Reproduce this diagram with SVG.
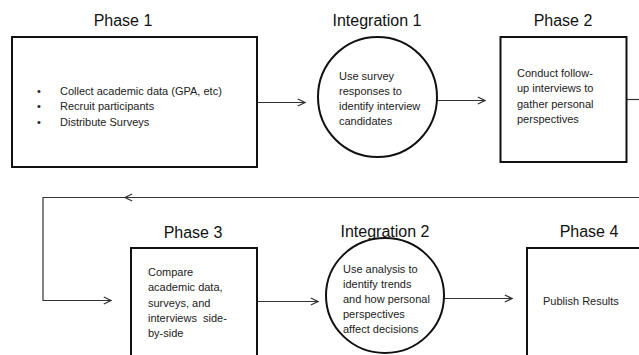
<svg xmlns="http://www.w3.org/2000/svg" width="639" height="355" viewBox="0 0 639 355">
  <defs>
    <style>
      .box { fill: #ffffff; stroke: #111111; stroke-width: 2; }
      .title { font-family: "Liberation Sans", Arial, sans-serif; font-size: 16px; fill: #111111; text-anchor: middle; }
      .body { font-family: "Liberation Sans", Arial, sans-serif; font-size: 11px; fill: #222222; }
      .conn { fill: none; stroke: #333333; stroke-width: 1.2; }
    </style>
    <marker id="open-arrow" viewBox="0 0 10 10" refX="9" refY="5" markerWidth="9" markerHeight="9" markerUnits="userSpaceOnUse" orient="auto">
      <path d="M1,1 L9,5 L1,9" fill="none" stroke="#333333" stroke-width="1.3"/>
    </marker>
  </defs>
  <rect width="639" height="355" fill="#ffffff"/>

  <!-- connectors -->
  <g id="connectors">
    <line class="conn" x1="257" y1="102.5" x2="305" y2="102.5" marker-end="url(#open-arrow)"/>
    <line class="conn" x1="437" y1="100.5" x2="485" y2="100.5" marker-end="url(#open-arrow)"/>
    <!-- return path from Phase 2 around to Phase 3 -->
    <line class="conn" x1="627" y1="99.5" x2="639" y2="99.5"/>
    <line class="conn" x1="639" y1="197.5" x2="125" y2="197.5" marker-end="url(#open-arrow)"/>
    <polyline class="conn" points="125,197.5 43,197.5 43,300.5 111,300.5" marker-end="url(#open-arrow)"/>
    <line class="conn" x1="257" y1="301.5" x2="318" y2="301.5" marker-end="url(#open-arrow)"/>
    <line class="conn" x1="444" y1="298.5" x2="512" y2="298.5" marker-end="url(#open-arrow)"/>
  </g>

  <!-- Phase 1 -->
  <g id="phase1">
    <text class="title" x="123" y="26">Phase 1</text>
    <rect class="box" x="12" y="37" width="245" height="130"/>
    <text class="body" x="37" y="95">•</text>
    <text class="body" x="37" y="110">•</text>
    <text class="body" x="37" y="125.5">•</text>
    <text class="body" x="60" y="95">Collect academic data (GPA, etc)</text>
    <text class="body" x="60" y="110">Recruit participants</text>
    <text class="body" x="60" y="125.5">Distribute Surveys</text>
  </g>

  <!-- Integration 1 -->
  <g id="integration1">
    <text class="title" x="377" y="26">Integration 1</text>
    <ellipse class="box" cx="377.5" cy="97" rx="59.5" ry="60"/>
    <text class="body" x="339" y="80">Use survey</text>
    <text class="body" x="339" y="95">responses to</text>
    <text class="body" x="339" y="110">identify interview</text>
    <text class="body" x="339" y="125">candidates</text>
  </g>

  <!-- Phase 2 -->
  <g id="phase2">
    <text class="title" x="563" y="26">Phase 2</text>
    <rect class="box" x="500.5" y="37" width="126" height="125"/>
    <text class="body" x="517" y="77">Conduct follow-</text>
    <text class="body" x="517" y="92">up interviews to</text>
    <text class="body" x="517" y="107.5">gather personal</text>
    <text class="body" x="517" y="123">perspectives</text>
  </g>

  <!-- Phase 3 -->
  <g id="phase3">
    <text class="title" x="193" y="238">Phase 3</text>
    <rect class="box" x="131" y="248" width="126" height="120"/>
    <text class="body" x="148" y="275.5">Compare</text>
    <text class="body" x="148" y="291">academic data,</text>
    <text class="body" x="148" y="306.5">surveys, and</text>
    <text class="body" x="148" y="321.5" xml:space="preserve">interviews  side-</text>
    <text class="body" x="148" y="337">by-side</text>
  </g>

  <!-- Integration 2 -->
  <g id="integration2">
    <text class="title" x="385" y="237">Integration 2</text>
    <ellipse class="box" cx="385" cy="295.5" rx="59" ry="57.5"/>
    <text class="body" x="343" y="273">Use analysis to</text>
    <text class="body" x="343" y="288">identify trends</text>
    <text class="body" x="343" y="303">and how personal</text>
    <text class="body" x="343" y="318">perspectives</text>
    <text class="body" x="343" y="333">affect decisions</text>
  </g>

  <!-- Phase 4 -->
  <g id="phase4">
    <text class="title" x="589" y="237">Phase 4</text>
    <rect class="box" x="527" y="248" width="130" height="120"/>
    <text class="body" x="543" y="305">Publish Results</text>
  </g>
</svg>
